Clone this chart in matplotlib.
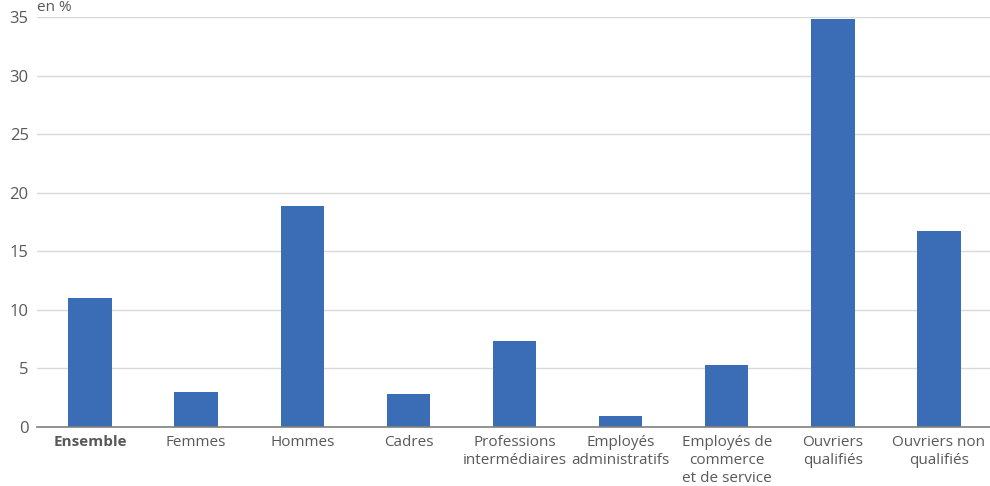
import matplotlib
matplotlib.use("Agg")
import matplotlib.pyplot as plt

categories = ["Ensemble", "Femmes", "Hommes", "Cadres", "Professions\nintermédiaires",
              "Employés\nadministratifs", "Employés de\ncommerce\net de service",
              "Ouvriers\nqualifiés", "Ouvriers non\nqualifiés"]
values = [11.0, 3.0, 18.9, 2.8, 7.3, 0.9, 5.3, 34.8, 16.7]
yticks = [0, 5, 10, 15, 20, 25, 30, 35]

plt.rcParams['font.family'] = ['Open Sans', 'DejaVu Sans']

fig = plt.figure(figsize=(9.9, 4.86), dpi=100)
ax = fig.add_axes([37/990, 59/486, (992-37)/990, 410/486])
x = list(range(len(categories)))
ax.bar(x, values, width=0.41, color="#3a6db5", zorder=3)
ax.set_xlim(-0.5, len(categories) - 0.5)
ax.set_ylim(0, 35)
ax.set_yticks(yticks)
ax.set_yticklabels([str(t) for t in yticks], fontsize=12, color="#595959")
ax.set_xticks(x)
ax.set_xticklabels(categories, fontsize=11, color="#595959", linespacing=1.25)
ax.get_xticklabels()[0].set_fontweight("bold")
ax.tick_params(axis='both', length=0)
ax.tick_params(axis='y', pad=6)
ax.tick_params(axis='x', pad=6)
ax.grid(axis='y', color="#d9d9d9", linewidth=1, zorder=0)
for s in ["top", "right", "left"]:
    ax.spines[s].set_visible(False)
ax.spines["bottom"].set_color("#808080")
ax.spines["bottom"].set_linewidth(1.2)
ax.spines["bottom"].set_zorder(4)
fig.text(37/990, 1.0, "en %", fontsize=11, color="#595959", ha="left", va="top")
fig.savefig("out.png", dpi=100)
